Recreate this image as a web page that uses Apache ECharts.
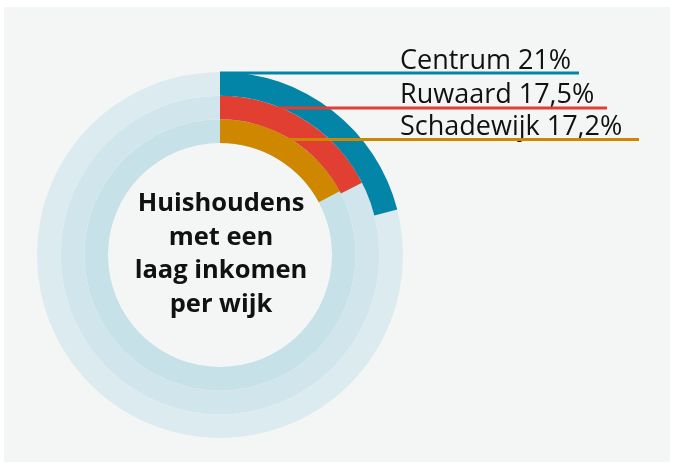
<!DOCTYPE html>
<html>
<head>
<meta charset="utf-8">
<script src="https://cdn.jsdelivr.net/npm/echarts@6/dist/echarts.min.js"></script>
<style>
  html, body { margin: 0; padding: 0; background: #ffffff; }
  #chart { width: 674px; height: 468px; }
</style>
</head>
<body>
<div id="chart"></div>
<script>
// wijken van buiten naar binnen
const wijken = ['Centrum', 'Ruwaard', 'Schadewijk']
const percentages = [21, 17.5, 17.2]
const labelTexts = ['Centrum 21%', 'Ruwaard 17,5%', 'Schadewijk 17,2%']
const barColors = ['#0385a8', '#e03f31', '#cf8700']
const trackColors = ['#dcebef', '#d1e6ec', '#c7e1e8']
const centerTitle = 'Huishoudens\nmet een\nlaag inkomen\nper wijk'

const CX = 220
const CY = 255
const R_INNER = 112
const R_OUTER = 183

// label layout: text baseline, line y, line end x
const labelLayout = [
  { textY: 69, lineY: 73, lineEnd: 579 },
  { textY: 103, lineY: 108, lineEnd: 607 },
  { textY: 135, lineY: 139.5, lineEnd: 639 }
]

// polar category axis runs inner -> outer, so reverse
const categories = wijken.slice().reverse()
const valueData = percentages.slice().reverse().map((v, i) => ({
  value: v,
  itemStyle: { color: barColors.slice().reverse()[i] }
}))
const trackData = trackColors.slice().reverse().map(c => ({
  value: 100,
  itemStyle: { color: c }
}))

const graphics = [
  {
    type: 'rect',
    shape: { x: 4, y: 7, width: 666, height: 455 },
    style: { fill: '#f4f6f5' },
    z: -10,
    silent: true
  }
]

labelTexts.forEach((txt, i) => {
  const l = labelLayout[i]
  graphics.push({
    type: 'text',
    x: 400,
    y: l.textY + 6,
    style: {
      text: txt,
      fill: '#111111',
      font: '400 27px "Open Sans", sans-serif',
      textVerticalAlign: 'bottom'
    },
    z: 10
  })
  graphics.push({
    type: 'rect',
    shape: { x: CX, y: l.lineY - 1.5, width: l.lineEnd - CX, height: 3 },
    style: { fill: barColors[i] },
    z: 10
  })
})

graphics.push({
  type: 'text',
  x: CX + 1,
  y: 254,
  style: {
    text: centerTitle,
    fill: '#111111',
    font: 'bold 25.5px "Open Sans", sans-serif',
    textAlign: 'center',
    textVerticalAlign: 'middle',
    lineHeight: 33.5
  },
  z: 10
})

const chart = echarts.init(document.getElementById('chart'))
chart.setOption({
  backgroundColor: '#ffffff',
  animation: false,
  polar: {
    center: [CX, CY],
    radius: [R_INNER, R_OUTER]
  },
  angleAxis: {
    type: 'value',
    min: 0,
    max: 100,
    startAngle: 90,
    clockwise: true,
    show: false
  },
  radiusAxis: {
    type: 'category',
    data: categories,
    show: false
  },
  series: [
    {
      type: 'bar',
      coordinateSystem: 'polar',
      data: trackData,
      barCategoryGap: '0%',
      barGap: '-100%',
      silent: true,
      z: 1
    },
    {
      type: 'bar',
      coordinateSystem: 'polar',
      data: valueData,
      barCategoryGap: '0%',
      barGap: '-100%',
      z: 2
    }
  ],
  graphic: graphics
})
</script>
</body>
</html>
